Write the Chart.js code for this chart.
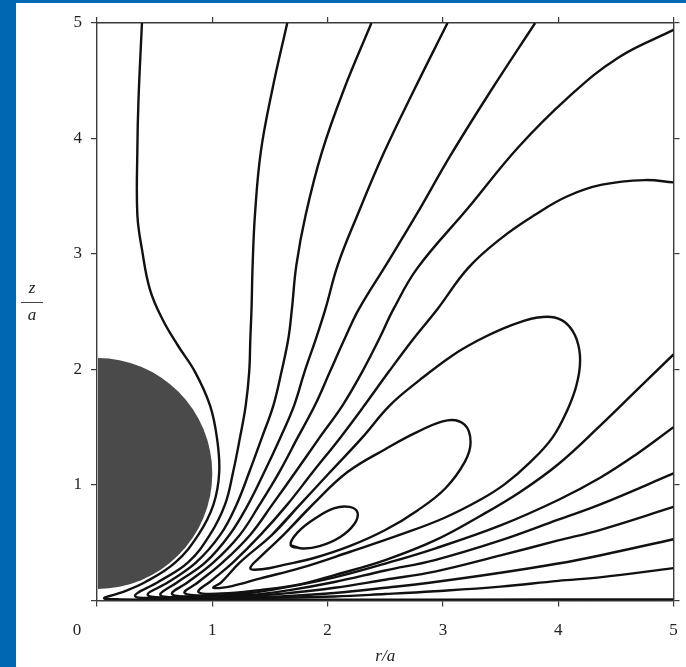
<!DOCTYPE html>
<html>
<head>
<meta charset="utf-8">
<script src="https://cdn.jsdelivr.net/npm/chart.js@4.4.1/dist/chart.umd.min.js"></script>
<style>
  html, body { margin: 0; padding: 0; }
  body { width: 686px; height: 667px; background: #0068b3; position: relative; overflow: hidden; }
  #wrap { position: absolute; left: 16px; top: 3px; width: 670px; height: 664px; background: #fff; }
</style>
</head>
<body>
<div id="wrap"><canvas id="chart" width="670" height="664"></canvas></div>
<script>
// axis ticks (r/a along x, z/a along y)
const tickValues = [0, 1, 2, 3, 4, 5];

// sphere sitting just above the wall
const sphereCentre = 1.1;
const sphereRadius = 1.0;

// open streamlines, each as [r/a, z/a] pairs: in from the top, round the tip near the wall, out to the right
const line1 = [[0.39,5.0],[0.36,4.34],[0.35,3.9],[0.35,3.34],[0.39,3.04],[0.46,2.69],[0.57,2.43],[0.7,2.21],[0.85,1.98],[0.98,1.69],[1.04,1.41],[1.06,1.11],[1.01,0.83],[0.88,0.57],[0.68,0.33],[0.42,0.16],[0.2,0.065],[0.06,0.02],[0.2,0.01],[1.0,0.008],[3.0,0.008],[5.0,0.01]];
const line2 = [[1.65,5.0],[1.52,4.42],[1.42,3.88],[1.37,3.34],[1.35,2.91],[1.34,2.52],[1.33,2.27],[1.32,1.98],[1.29,1.69],[1.24,1.41],[1.18,1.11],[1.11,0.83],[0.98,0.57],[0.79,0.33],[0.53,0.16],[0.33,0.04],[0.55,0.022],[1.33,0.022],[2.06,0.035],[2.5,0.056],[2.93,0.08],[3.5,0.12],[4.0,0.17],[4.36,0.2],[5.0,0.28]];
const line3 = [[2.38,5.0],[2.14,4.42],[1.95,3.88],[1.81,3.34],[1.73,2.91],[1.69,2.52],[1.66,2.27],[1.6,1.98],[1.53,1.69],[1.43,1.41],[1.32,1.11],[1.21,0.83],[1.07,0.57],[0.86,0.33],[0.62,0.16],[0.44,0.048],[0.68,0.026],[1.33,0.03],[1.67,0.04],[2.06,0.065],[2.5,0.11],[2.93,0.16],[3.5,0.24],[4.0,0.32],[4.36,0.39],[5.0,0.53]];
const line4 = [[3.04,5.0],[2.75,4.42],[2.49,3.88],[2.26,3.34],[2.09,2.91],[1.98,2.52],[1.9,2.27],[1.8,1.98],[1.71,1.69],[1.59,1.41],[1.45,1.11],[1.31,0.83],[1.15,0.57],[0.94,0.33],[0.7,0.16],[0.55,0.048],[0.76,0.03],[1.33,0.04],[1.67,0.065],[2.06,0.11],[2.5,0.18],[2.93,0.25],[3.5,0.39],[4.0,0.52],[4.36,0.61],[5.0,0.81]];
const line5 = [[3.8,5.0],[3.42,4.42],[3.07,3.86],[2.77,3.34],[2.51,2.91],[2.27,2.52],[2.15,2.27],[2.02,1.98],[1.89,1.69],[1.74,1.41],[1.58,1.11],[1.41,0.83],[1.24,0.57],[1.01,0.33],[0.79,0.16],[0.65,0.056],[0.85,0.035],[1.33,0.048],[1.67,0.09],[2.06,0.16],[2.5,0.26],[2.93,0.35],[3.5,0.52],[4.0,0.7],[4.36,0.83],[5.0,1.1]];
const line6 = [[5.0,4.94],[4.52,4.7],[4.08,4.35],[3.65,3.92],[3.22,3.4],[2.78,2.88],[2.57,2.52],[2.45,2.27],[2.3,1.98],[2.13,1.69],[1.93,1.41],[1.72,1.11],[1.52,0.83],[1.33,0.57],[1.09,0.33],[0.88,0.16],[0.76,0.065],[0.98,0.043],[1.33,0.065],[1.67,0.12],[2.06,0.2],[2.5,0.32],[2.93,0.45],[3.5,0.65],[4.0,0.87],[4.36,1.06],[4.67,1.26],[5.0,1.5]];
const line7 = [[5.0,3.62],[4.75,3.64],[4.38,3.6],[4.08,3.5],[3.8,3.34],[3.51,3.14],[3.22,2.88],[2.95,2.52],[2.74,2.26],[2.53,1.98],[2.32,1.69],[2.11,1.41],[1.87,1.11],[1.65,0.83],[1.42,0.57],[1.18,0.33],[0.99,0.17],[0.88,0.074],[1.08,0.06],[1.41,0.09],[1.76,0.14],[2.06,0.22],[2.5,0.35],[2.93,0.52],[3.32,0.73],[3.67,0.94],[4.0,1.18],[4.36,1.51],[4.67,1.81],[5.0,2.13]];

// closed eddy streamlines, outermost first
const loop1 = [[1.52,0.57],[1.76,0.83],[2.02,1.11],[2.3,1.41],[2.54,1.69],[2.8,1.91],[3.08,2.12],[3.32,2.26],[3.51,2.35],[3.67,2.41],[3.82,2.45],[3.97,2.45],[4.08,2.39],[4.16,2.26],[4.19,2.08],[4.16,1.87],[4.08,1.65],[3.95,1.41],[3.76,1.2],[3.54,1.01],[3.32,0.87],[3.0,0.71],[2.63,0.57],[2.19,0.42],[1.76,0.28],[1.41,0.19],[1.17,0.125],[1.01,0.11],[1.08,0.16],[1.24,0.33]];
const loop2 = [[1.62,0.57],[1.87,0.83],[2.17,1.11],[2.5,1.31],[2.78,1.46],[3.04,1.56],[3.19,1.52],[3.24,1.37],[3.19,1.2],[3.02,0.97],[2.78,0.78],[2.5,0.61],[2.19,0.47],[1.89,0.37],[1.63,0.31],[1.43,0.27],[1.33,0.28],[1.43,0.39]];
const loop3 = [[1.68,0.48],[1.78,0.45],[1.93,0.47],[2.11,0.55],[2.23,0.66],[2.26,0.76],[2.19,0.81],[2.06,0.8],[1.89,0.71],[1.74,0.59]];

const openLines = [line1, line2, line3, line4, line5, line6, line7];
const closedLines = [loop1, loop2, loop3];

const serif = 'Liberation Serif';
const inkColor = '#222';
const frameColor = '#3a3a3a';

function toPoints(pairs) {
  return pairs.map(([r, z]) => ({ x: r, y: z }));
}

function streamline(pairs) {
  return {
    data: toPoints(pairs),
    showLine: true,
    borderColor: '#111',
    borderWidth: 2.4,
    pointRadius: 0,
    tension: 0.4,
    fill: false
  };
}

// loops repeat their first two points so the join is smooth
const datasets = openLines.map(streamline)
  .concat(closedLines.map(p => streamline(p.concat(p.slice(0, 2)))));

const sphere = {
  id: 'sphere',
  beforeDatasetsDraw(chart) {
    const { ctx, chartArea, scales: { x, y } } = chart;
    const cx = x.getPixelForValue(0);
    const cy = y.getPixelForValue(sphereCentre);
    const rx = x.getPixelForValue(sphereRadius) - cx;
    const ry = cy - y.getPixelForValue(sphereCentre + sphereRadius);
    ctx.save();
    ctx.beginPath();
    ctx.rect(chartArea.left + 1, chartArea.top, chartArea.width, chartArea.height);
    ctx.clip();
    ctx.beginPath();
    ctx.ellipse(cx, cy, rx, ry, 0, 0, Math.PI * 2);
    ctx.fillStyle = '#4a4a4a';
    ctx.fill();
    ctx.restore();
  }
};

// shared "0" at the corner and the z/a fraction on the left
const cornerText = {
  id: 'cornerText',
  afterDraw(chart) {
    const { ctx, scales: { x, y } } = chart;
    ctx.save();
    ctx.fillStyle = inkColor;
    ctx.textAlign = 'center';
    ctx.textBaseline = 'middle';
    ctx.font = '17px "' + serif + '"';
    ctx.fillText('0', x.getPixelForValue(0) - 20, x.top + 6 + 14 + 10.2);

    const fx = y.left + 16;
    const fy = y.getPixelForValue(2.58);
    ctx.font = 'italic 17px "' + serif + '"';
    ctx.fillText('z', fx, fy - 14);
    ctx.fillText('a', fx, fy + 13);
    ctx.beginPath();
    ctx.moveTo(fx - 11, fy);
    ctx.lineTo(fx + 11, fy);
    ctx.lineWidth = 1;
    ctx.strokeStyle = '#444';
    ctx.stroke();
    ctx.restore();
  }
};

const frameGrid = { drawOnChartArea: false, drawTicks: true, tickLength: 6, color: frameColor, lineWidth: 1.2 };
const frameBorder = { display: true, color: frameColor, width: 1.4 };
const fixedTicks = scale => { scale.ticks = tickValues.map(v => ({ value: v })); };
// fixed axis boxes; label overhang is already covered by the layout padding
const fitBox = (w, h) => scale => {
  if (w !== null) scale.width = w;
  if (h !== null) scale.height = h;
  scale.paddingLeft = scale.paddingRight = scale.paddingTop = scale.paddingBottom = 0;
};

new Chart(document.getElementById('chart'), {
  type: 'scatter',
  data: { datasets },
  options: {
    responsive: false,
    animation: false,
    layout: { padding: { left: 0, top: 20, right: 12.5, bottom: 0 } },
    plugins: { legend: { display: false }, tooltip: { enabled: false } },
    scales: {
      x: {
        type: 'linear', position: 'bottom', min: 0, max: 5,
        afterBuildTicks: fixedTicks,
        afterFit: fitBox(null, 66.5),
        ticks: {
          font: { family: serif, size: 17 }, color: inkColor, padding: 14, maxRotation: 0,
          callback: v => (v === 0 ? '' : String(v))
        },
        grid: frameGrid,
        border: frameBorder,
        title: { display: true, text: 'r/a', color: inkColor, padding: 0, font: { family: serif, size: 17, style: 'italic' } }
      },
      y: {
        type: 'linear', position: 'left', min: 0, max: 5,
        afterBuildTicks: fixedTicks,
        afterFit: fitBox(81, null),
        ticks: {
          font: { family: serif, size: 17 }, color: inkColor, padding: 9,
          callback: v => (v === 0 ? '' : String(v))
        },
        grid: frameGrid,
        border: frameBorder
      },
      x2: {
        type: 'linear', position: 'top', min: 0, max: 5,
        afterBuildTicks: fixedTicks,
        afterFit: fitBox(null, 0),
        ticks: { display: false },
        grid: frameGrid,
        border: frameBorder
      },
      y2: {
        type: 'linear', position: 'right', min: 0, max: 5,
        afterBuildTicks: fixedTicks,
        afterFit: fitBox(0, null),
        ticks: { display: false },
        grid: frameGrid,
        border: frameBorder
      }
    }
  },
  plugins: [sphere, cornerText]
});
</script>
</body>
</html>
